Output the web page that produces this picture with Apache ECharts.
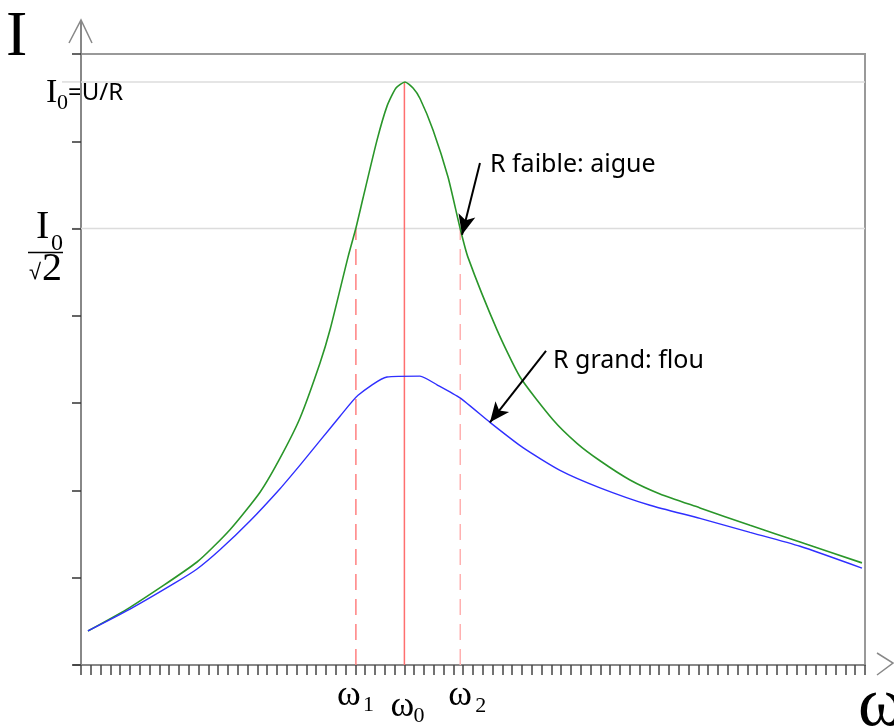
<!DOCTYPE html>
<html>
<head>
<meta charset="utf-8">
<script src="https://cdn.jsdelivr.net/npm/echarts@6/dist/echarts.min.js"></script>
<style>html,body{margin:0;padding:0;background:#fff}#c{width:894px;height:726px}</style>
</head>
<body>
<div id="c"></div>
<script>
// ---- data (ω in tick units, I in y-tick units) ----
const greenW = [0.71, 5.0, 11.84, 15.2, 18.27, 20.31, 22.35, 24.39, 25.41, 27.24, 28.06, 28.78, 30.2, 31.22, 32.14, 33.06, 33.88, 34.59, 35.92, 37.45, 38.67, 39.49, 42.45, 44.8, 48.16, 50.61, 52.96, 56.02, 59.08, 63.16, 68.27, 73.37, 79.69];
const greenI = [0.39, 0.66, 1.18, 1.55, 1.98, 2.37, 2.83, 3.46, 3.84, 4.67, 5.01, 5.35, 6.01, 6.40, 6.61, 6.68, 6.61, 6.49, 6.13, 5.59, 5.01, 4.67, 3.84, 3.30, 2.81, 2.54, 2.34, 2.12, 1.96, 1.80, 1.60, 1.41, 1.17];
const blueW = [0.71, 5.0, 9.59, 11.84, 14.18, 17.24, 20.31, 22.35, 24.39, 26.43, 28.27, 31.22, 34.59, 36.33, 38.67, 41.73, 45.1, 48.88, 52.96, 58.06, 63.16, 68.27, 73.37, 79.69];
const blueI = [0.39, 0.64, 0.94, 1.10, 1.32, 1.65, 2.02, 2.29, 2.57, 2.85, 3.09, 3.30, 3.31, 3.21, 3.06, 2.78, 2.49, 2.23, 2.03, 1.83, 1.68, 1.52, 1.36, 1.11];
const omega = { w1: 28.05, w0: 33.0, w2: 38.7 };
const I0 = 6.68;
const Ihalf = 5.0;
const xRange = [0, 80];
const yRange = [0, 7];
const arrowFaible = [[40.71, 5.75], [38.88, 4.93]];
const arrowGrand = [[47.45, 3.60], [41.73, 2.78]];
const labelFaible = 'R faible: aigue';
const labelGrand = 'R grand: flou';

const zip = (a, b) => a.map((v, i) => [v, b[i]]);
const chart = echarts.init(document.getElementById('c'), null, { renderer: 'canvas' });

const option = {
  animation: false,
  backgroundColor: '#fff',
  grid: { left: 81, right: 29, top: 54, bottom: 61, show: true, borderColor: '#999', borderWidth: 2, backgroundColor: 'transparent' },
  xAxis: {
    type: 'value', min: xRange[0], max: xRange[1], interval: 1,
    axisLine: { lineStyle: { color: '#888', width: 2 } },
    axisTick: { length: 10, lineStyle: { color: '#444', width: 1.5 } },
    axisLabel: { show: false }, splitLine: { show: false }
  },
  yAxis: {
    type: 'value', min: yRange[0], max: yRange[1], interval: 1,
    axisLine: { show: true, lineStyle: { color: '#888', width: 2 } },
    axisTick: { show: true, length: 9, lineStyle: { color: '#333', width: 1.5 } },
    axisLabel: { show: false }, splitLine: { show: false }
  },
  series: [
    { type: 'line', data: [[xRange[0], I0], [xRange[1], I0]], symbol: 'none', lineStyle: { color: '#dcdcdc', width: 1.5 }, silent: true },
    { type: 'line', data: [[xRange[0], Ihalf], [xRange[1], Ihalf]], symbol: 'none', lineStyle: { color: '#dcdcdc', width: 1.5 }, silent: true },
    { type: 'line', data: [[omega.w0, 0], [omega.w0, I0]], symbol: 'none', lineStyle: { color: '#ff6f6f', width: 1.5 } },
    { type: 'line', data: [[omega.w1, 0], [omega.w1, Ihalf]], symbol: 'none', lineStyle: { color: '#ff8080', width: 1.5, type: [16, 9] } },
    { type: 'line', data: [[omega.w2, 0], [omega.w2, Ihalf]], symbol: 'none', lineStyle: { color: '#ffb0b0', width: 1.5, type: [16, 9] } },
    { type: 'line', data: zip(greenW, greenI), symbol: 'none', smooth: 0.2, lineStyle: { color: '#2a962a', width: 1.6 } },
    { type: 'line', data: zip(blueW, blueI), symbol: 'none', smooth: 0.2, lineStyle: { color: '#2f2fff', width: 1.4 },
      markLine: {
        silent: true, symbol: ['none', 'arrow'], symbolSize: [13, 20],
        lineStyle: { color: '#000', width: 2, type: 'solid' }, label: { show: false },
        data: [
          [{ coord: arrowFaible[0] }, { coord: arrowFaible[1] }],
          [{ coord: arrowGrand[0] }, { coord: arrowGrand[1] }]
        ]
      }
    }
  ]
};
chart.setOption(option);

const p = (x, y) => chart.convertToPixel({ gridIndex: 0 }, [x, y]);
const o = p(xRange[0], yRange[0]);
const tr = p(xRange[1], yRange[1]);
const axX = o[0], axY = o[1], topY = tr[1], rightX = tr[0];
const serif = '"Liberation Serif", "DejaVu Serif", serif';
const sans = '"Noto Sans", "Liberation Sans", sans-serif';
const txt = (x, y, text, size, family, extra) => Object.assign({
  type: 'text', x: x, y: y, silent: true,
  style: Object.assign({ text: text, font: size + 'px ' + family, fill: '#000', verticalAlign: 'middle', align: 'left' }, extra || {})
});
const yI0 = p(0, I0)[1];
const yH = p(0, Ihalf)[1];
const xw1 = p(omega.w1, 0)[0], xw0 = p(omega.w0, 0)[0], xw2 = p(omega.w2, 0)[0];
const af = p(arrowFaible[0][0], arrowFaible[0][1]);
const ag = p(arrowGrand[0][0], arrowGrand[0][1]);

const graphics = [
  // axis extensions and open arrow heads
  { type: 'line', silent: true, shape: { x1: axX, y1: topY, x2: axX, y2: 21 }, style: { stroke: '#888', lineWidth: 2 } },
  { type: 'polyline', silent: true, shape: { points: [[axX - 12, 43], [axX, 20], [axX + 11, 43]] }, style: { stroke: '#888', lineWidth: 1.5, fill: null } },
  { type: 'line', silent: true, shape: { x1: axX - 8, y1: axY, x2: axX, y2: axY }, style: { stroke: '#888', lineWidth: 2 } },
  { type: 'polyline', silent: true, shape: { points: [[rightX + 12, axY - 12], [rightX + 28, axY - 2], [rightX + 12, axY + 10]] }, style: { stroke: '#888', lineWidth: 1.5, fill: null } },
  { type: 'line', silent: true, shape: { x1: axX - 19, y1: yI0, x2: axX, y2: yI0 }, style: { stroke: '#dcdcdc', lineWidth: 1.5 } },
  { type: 'line', silent: true, shape: { x1: axX - 9, y1: yH, x2: axX, y2: yH }, style: { stroke: '#dcdcdc', lineWidth: 1.5 } },
  // axis titles
  txt(6, 38, 'I', 64, serif),
  // I0 = U/R
  txt(axX - 35, yI0 + 11, 'I', 34, serif),
  txt(axX - 24, yI0 + 21, '0', 22, serif),
  txt(axX - 13, yI0 + 11, '=U/R', 24, sans),
  // I0 / sqrt2
  txt(axX - 45, yH - 1, 'I', 40, serif),
  txt(axX - 30, yH + 15, '0', 24, serif),
  { type: 'line', silent: true, shape: { x1: axX - 53, y1: yH + 24, x2: axX - 18, y2: yH + 24 }, style: { stroke: '#000', lineWidth: 1.5 } },
  txt(axX - 52, yH + 44, '\u221A', 22, sans),
  txt(axX - 39, yH + 41, '2', 40, serif),
  // omega labels
  txt(xw1 - 19, axY + 31, '\u03C9', 36, serif),
  txt(xw1 + 7, axY + 40, '1', 22, serif),
  txt(xw0 - 14, axY + 42, '\u03C9', 36, serif),
  txt(xw0 + 9, axY + 51, '0', 22, serif),
  txt(xw2 - 12, axY + 31, '\u03C9', 36, serif),
  txt(xw2 + 15, axY + 41, '2', 22, serif),
  txt(rightX - 7, axY + 42, '\u03C9', 70, serif),
  // annotations
  txt(af[0] + 10, af[1] + 2, labelFaible, 25, sans),
  txt(ag[0] + 7, ag[1] + 10, labelGrand, 25, sans)
];
chart.setOption({ graphic: graphics });
</script>
</body>
</html>
